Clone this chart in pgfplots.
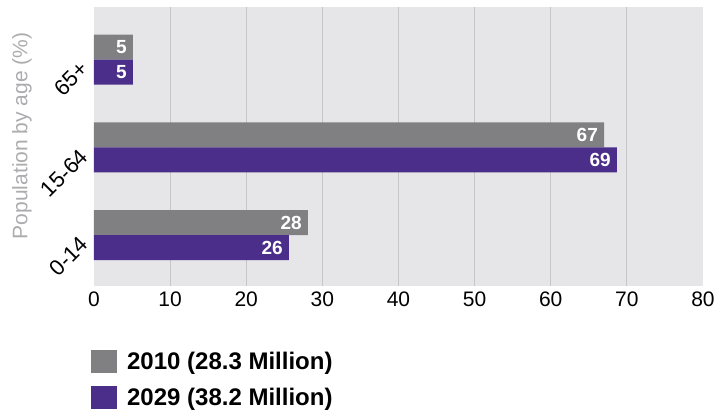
\documentclass[border=0pt]{standalone}
\usepackage{fontspec}
\setmainfont{Liberation Sans}
\usepackage{pgfplots}
\pgfplotsset{compat=1.18}
\definecolor{cgray}{RGB}{128,128,131}
\definecolor{cpurple}{RGB}{74,46,138}
\definecolor{cbg}{RGB}{230,230,232}
\definecolor{cgrid}{RGB}{198,198,200}
\definecolor{clabel}{RGB}{172,172,175}
\begin{document}
\begin{tikzpicture}
\useasboundingbox (-94pt,-128pt) rectangle (622pt,286pt);
\begin{axis}[
  at={(0pt,0pt)}, anchor=south west,
  scale only axis, width=609pt, height=279pt,
  xbar, bar width=0.286,
  xmin=0, xmax=80, ymin=-0.58, ymax=2.6,
  xtick={10,20,...,70},
  extra x ticks={0,80}, extra x tick style={grid=none},
  ytick={0,1,2}, yticklabels={0-14,15-64,65+},
  xmajorgrids, major grid style={cgrid, line width=1.2pt},
  axis line style={draw=none},
  tick style={draw=none},
  axis background/.style={fill=cbg},
  /pgf/number format/assume math mode=true,
  xticklabel style={font=\fontsize{21}{25}\selectfont, inner sep=0pt, yshift=-6pt},
  yticklabel style={xshift=-11pt, rotate=45, anchor=north east, inner sep=0pt, font=\fontsize{22}{26}\selectfont},
  ylabel={Population by age (\%)},
  ylabel style={at={(axis description cs:-0.1346,0.538)}, anchor=north, inner sep=0pt, text=clabel, font=\fontsize{21}{25}\selectfont},
  point meta=explicit symbolic,
  nodes near coords,
  every node near coord/.append style={anchor=east, xshift=-6pt, text=white, inner sep=0pt, font=\bfseries\fontsize{19}{22}\selectfont},
  legend style={at={(axis description cs:-0.005,-0.229)}, anchor=north west, draw=none, fill=none, inner sep=0pt, row sep=13pt, column sep=8pt,
    font=\bfseries\fontsize{24}{28}\selectfont},
  legend cell align=left,
  legend image code/.code={\fill[#1] (0pt,-11.5pt) rectangle (26pt,11.5pt);},
]
\addplot[fill=cgray, draw=none, bar shift=0.143] coordinates {(28.1,0) [28] (67,1) [67] (5.1,2) [5]};
\addlegendentry{2010 (28.3 Million)}
\addplot[fill=cpurple, draw=none, bar shift=-0.143] coordinates {(25.6,0) [26] (68.7,1) [69] (5.1,2) [5]};
\addlegendentry{2029 (38.2 Million)}
\end{axis}
\end{tikzpicture}
\end{document}
